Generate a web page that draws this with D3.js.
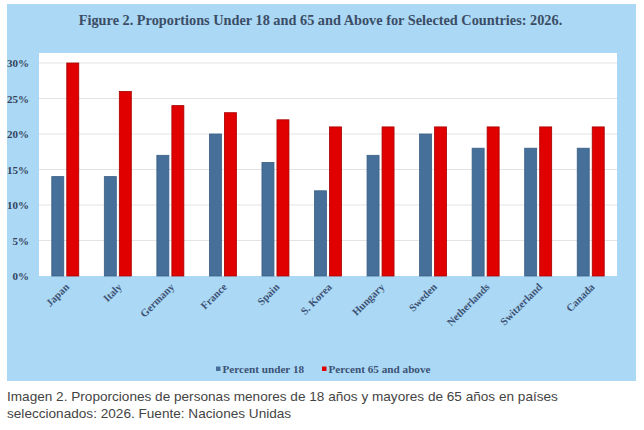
<!DOCTYPE html>
<html><head><meta charset="utf-8">
<script src="https://cdn.jsdelivr.net/npm/d3@7"></script>
<style>
body{margin:0;background:#fff;}
svg{display:block;}
</style></head>
<body>
<svg id="chart" width="644" height="430"></svg>
<script>
const categories = ["Japan","Italy","Germany","France","Spain","S. Korea","Hungary","Sweden","Netherlands","Switzerland","Canada"];
const under18 = [14,14,17,20,16,12,17,20,18,18,18];
const over65 = [30,26,24,23,22,21,21,21,21,21,21];
const seriesNames = ["Percent under 18","Percent 65 and above"];
const yTicks = [0,5,10,15,20,25,30];
const titleText = "Figure 2. Proportions Under 18 and 65 and Above for Selected Countries: 2026.";
const captionLines = ["Imagen 2. Proporciones de personas menores de 18 años y mayores de 65 años en países","seleccionados: 2026. Fuente: Naciones Unidas"];

const colors = ["#46709a","#e00000"];
const strokes = ["#3a5f85","#a80000"];
const svg = d3.select("#chart");
const serif = "'Liberation Serif','Times New Roman',serif";

// panel
svg.append("rect").attr("x",7).attr("y",4).attr("width",629).attr("height",377).attr("fill","#abd8f4");

const plot = {left:39,right:617,top:53,bottom:276};
svg.append("rect").attr("x",plot.left).attr("y",plot.top)
  .attr("width",plot.right-plot.left).attr("height",plot.bottom-plot.top).attr("fill","#ffffff");

const x = d3.scaleBand().domain(categories).range([plot.left,plot.right]);
const y = d3.scaleLinear().domain([0,30]).range([plot.bottom,63]);
const x1 = d3.scaleBand().domain(seriesNames).range([-13.5,13.5]).paddingInner(0.2);

// gridlines
svg.append("g").selectAll("line").data(yTicks.filter(d=>d>0)).join("line")
  .attr("x1",plot.left).attr("x2",plot.right)
  .attr("y1",d=>y(d)).attr("y2",d=>y(d))
  .attr("stroke","#e3e3e3").attr("stroke-width",1.2);

// y axis
const yAxis = d3.axisLeft(y).tickValues(yTicks).tickFormat(d=>d+"%").tickSize(0).tickPadding(0);
const gy = svg.append("g").attr("transform",`translate(29,0)`).call(yAxis);
gy.select(".domain").remove();
gy.selectAll("text").attr("font-family",serif).attr("font-weight","bold")
  .attr("font-size","11px").attr("fill","#33445c");

// bars
const data = [under18, over65];
const g = svg.append("g");
seriesNames.forEach((s,i)=>{
  g.append("g").selectAll("rect").data(categories).join("rect")
    .attr("x",d=>x(d)+x.bandwidth()/2+x1(s))
    .attr("width",x1.bandwidth())
    .attr("y",(d,j)=>y(data[i][j]))
    .attr("height",(d,j)=>plot.bottom-y(data[i][j]))
    .attr("fill",colors[i]).attr("stroke",strokes[i]).attr("stroke-width",0.8);
});

// x axis labels
const xAxis = d3.axisBottom(x).tickSize(0).tickPadding(0);
const gx = svg.append("g").attr("transform",`translate(0,${plot.bottom})`).call(xAxis);
gx.select(".domain").remove();
gx.selectAll("text")
  .attr("font-family",serif).attr("font-weight","bold").attr("font-size","10.6px")
  .attr("fill","#3c5274")
  .attr("text-anchor","end")
  .attr("dy","0.35em")
  .attr("transform","translate(2,9) rotate(-45)");

// title
svg.append("text").attr("x",320.5).attr("y",25).attr("text-anchor","middle")
  .attr("font-family",serif).attr("font-weight","bold").attr("font-size","14.3px")
  .attr("fill","#3b4d66").text(titleText);

// legend
const legX = [216,322];
const leg = svg.append("g");
seriesNames.forEach((s,i)=>{
  leg.append("rect").attr("x",legX[i]).attr("y",366.5).attr("width",4.5).attr("height",4.5).attr("fill",colors[i]);
  leg.append("text").attr("x",legX[i]+6.5).attr("y",373)
    .attr("font-family",serif).attr("font-weight","bold").attr("font-size","11.2px")
    .attr("fill","#3c5274").text(s);
});

// caption
svg.append("g").selectAll("text").data(captionLines).join("text")
  .attr("x",7).attr("y",(d,i)=>401+i*17)
  .attr("font-family","'Liberation Sans',Arial,sans-serif").attr("font-size","13.6px")
  .attr("fill","#444").text(d=>d);
</script>
</body></html>
